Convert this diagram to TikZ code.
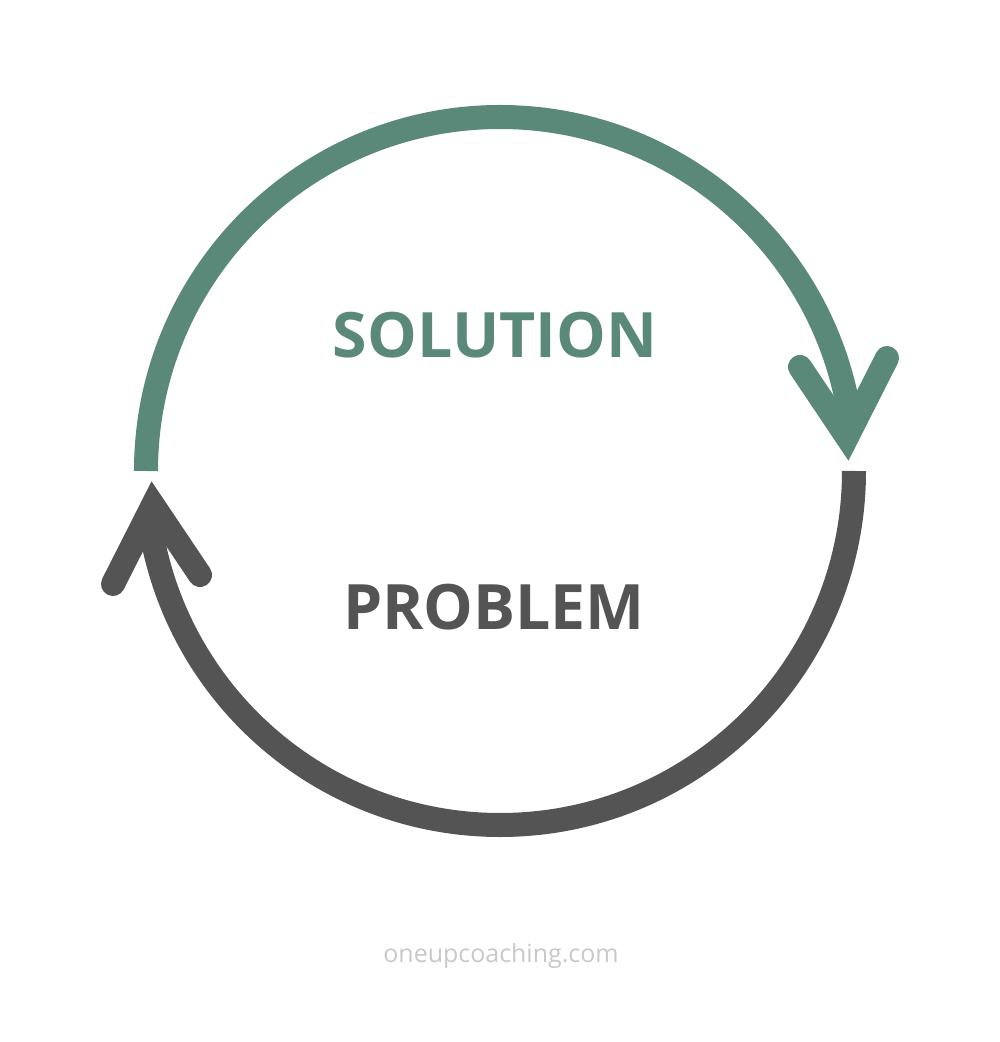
\documentclass[tikz,border=0pt]{standalone}
\usepackage{fontspec}
\setmainfont{Open Sans}
\definecolor{solgreen}{HTML}{5A897A}
\definecolor{probgray}{HTML}{545454}
\definecolor{urlgray}{HTML}{C8C8C8}
\begin{document}
\begin{tikzpicture}[x=0.01cm,y=0.01cm,
  ring/.style={line width=0.24cm, line cap=butt},
  tip/.style={line width=0.24cm, line cap=round, line join=miter, miter limit=10},
  lbl/.style={font=\fontsize{17.8}{20}\selectfont\bfseries, anchor=base, inner sep=0pt}]
\useasboundingbox (0,0) rectangle (1000,1042);
\coordinate (c) at (500,571);
% green arc (solution)
\draw[ring, solgreen] (c) ++(180:354) arc[start angle=180, end angle=8, radius=354];
\coordinate (gv) at (847,605);
\coordinate (gl) at (800,675);
\coordinate (gr) at (887,684);
\draw[tip, solgreen] (gl) -- (gv) -- (gr);
% gray arc (problem)
\draw[ring, probgray] (c) ++(0:354) arc[start angle=0, end angle=-172, radius=354];
\coordinate (pv) at (153,537);
\coordinate (pl) at (113,458);
\coordinate (pr) at (200,467);
\draw[tip, probgray] (pl) -- (pv) -- (pr);
% labels
\node[lbl, text=solgreen] (sol) at (495,684) {SOLUTION};
\node[lbl, text=probgray] (prob) at (494,412) {PROBLEM};
\node[font=\fontsize{7.1}{9}\selectfont, text=urlgray, anchor=base, inner sep=0pt] (url) at (501,79) {oneupcoaching.com};
\end{tikzpicture}
\end{document}
